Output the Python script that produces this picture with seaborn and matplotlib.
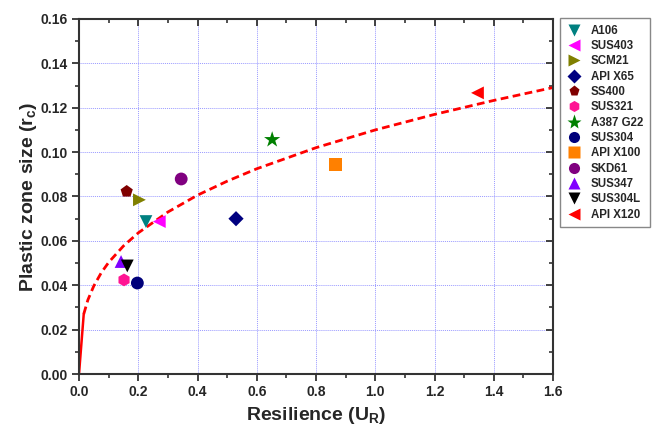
import matplotlib
matplotlib.use("Agg")
import matplotlib.pyplot as plt
from matplotlib.lines import Line2D
from matplotlib.ticker import MultipleLocator
import seaborn as sns
import pandas as pd

# ---- data ----
materials = ["A106", "SUS403", "SCM21", "API X65", "SS400", "SUS321", "A387 G22",
             "SUS304", "API X100", "SKD61", "SUS347", "SUS304L", "API X120"]
resilience = [0.226, 0.271, 0.204, 0.530, 0.161, 0.152, 0.652,
              0.197, 0.866, 0.345, 0.142, 0.163, 1.345]
plastic_zone = [0.0687, 0.0687, 0.0785, 0.0700, 0.0823, 0.0424, 0.1056,
                0.0410, 0.0946, 0.0879, 0.0507, 0.0487, 0.1267]
colors = ["#008080", "#ff00ff", "#808000", "#000080", "#800000", "#ff1493", "#008000",
          "#00007a", "#ff8000", "#800080", "#8000ff", "#000000", "#ff0000"]
markers = ["v", "<", ">", "D", "p", "h", "*", "o", "s", "o", "^", "v", "<"]

# fitted trend curve
curve_x = [0.0, 0.016, 0.03, 0.05, 0.075, 0.1, 0.15, 0.2, 0.3, 0.4, 0.5, 0.6,
           0.8, 1.0, 1.2, 1.4, 1.6]
curve_y = [0.0, 0.0270, 0.0334, 0.0397, 0.0456, 0.0503, 0.0577, 0.0636, 0.0730,
           0.0806, 0.0869, 0.0925, 0.1020, 0.1100, 0.1170, 0.1233, 0.1291]

x_ticks = [0.0, 0.2, 0.4, 0.6, 0.8, 1.0, 1.2, 1.4, 1.6]
y_ticks = [0.00, 0.02, 0.04, 0.06, 0.08, 0.10, 0.12, 0.14, 0.16]

# ---- style ----
sns.set_style("ticks")
plt.rcParams["font.family"] = ["Liberation Sans", "DejaVu Sans"]
plt.rcParams["font.weight"] = "bold"
plt.rcParams["axes.labelweight"] = "bold"
plt.rcParams["mathtext.default"] = "regular"

fig = plt.figure(figsize=(6.52, 4.30), dpi=100)
ax = fig.add_axes([79 / 652, 1 - 374 / 430, (553 - 79) / 652, (374 - 19) / 430])

df = pd.DataFrame({"x": resilience, "y": plastic_zone, "name": materials})
pal = dict(zip(materials, colors))
mk = dict(zip(materials, markers))
sizes = {m: (150 if m == "A387 G22" else 85) for m in materials}

# trend line: solid start + dashed remainder
sns.lineplot(x=curve_x[:2], y=curve_y[:2], ax=ax, color="#ff0000", lw=1.8,
             sort=False, estimator=None)
sns.lineplot(x=curve_x[1:], y=curve_y[1:], ax=ax, color="#ff0000", lw=2.0,
             linestyle=(0, (2.8, 1.6)), sort=False, estimator=None)

for m in materials:
    sub = df[df["name"] == m]
    sns.scatterplot(data=sub, x="x", y="y", color=pal[m], marker=mk[m],
                    s=sizes[m] if mk[m] != "D" else 60, edgecolor="none",
                    ax=ax, legend=False, zorder=5)

ax.set_xlim(0, 1.6)
ax.set_ylim(0, 0.16)
ax.set_xticks(x_ticks)
ax.set_yticks(y_ticks)
ax.set_xticklabels([f"{v:.1f}" for v in x_ticks])
ax.set_yticklabels([f"{v:.2f}" for v in y_ticks])
ax.xaxis.set_minor_locator(MultipleLocator(0.1))
ax.yaxis.set_minor_locator(MultipleLocator(0.01))

ax.grid(True, which="major", color="#9a9aff", linestyle=(0, (1, 1)), lw=0.7)
ax.set_axisbelow(True)

for sp in ax.spines.values():
    sp.set_visible(True)
    sp.set_color("#333333")
    sp.set_linewidth(1.5)

ax.tick_params(axis="both", which="major", direction="out", length=5, width=1.3,
               color="#333333", labelsize=10, pad=3)
ax.tick_params(axis="both", which="minor", direction="out", length=3, width=1.2,
               color="#333333")
ax.tick_params(axis="both", which="both", top=True, right=True)
# mirrored ticks on top/right point inward
for t in ax.xaxis.get_major_ticks() + ax.xaxis.get_minor_ticks():
    t.tick2line.set_marker(3)
for t in ax.yaxis.get_major_ticks() + ax.yaxis.get_minor_ticks():
    t.tick2line.set_marker(0)
for lab in ax.get_xticklabels() + ax.get_yticklabels():
    lab.set_fontweight("bold")

ax.set_xlabel(r"Resilience (U$_R$)", fontsize=14, fontweight="bold", labelpad=4)
ax.set_ylabel(r"Plastic zone size (r$_c$)", fontsize=14, fontweight="bold", labelpad=1)

handles = [Line2D([], [], linestyle="none", marker=mk[m], color=pal[m],
                  markeredgecolor="none",
                  markersize=(11 if m == "A387 G22" else 8 if mk[m] != "D" else 7))
           for m in materials]
leg = fig.legend(handles, materials, loc="upper left",
                 bbox_to_anchor=(560 / 652, 1 - 18 / 430), frameon=True,
                 fancybox=False, edgecolor="#888888", framealpha=1,
                 prop={"size": 8.3, "weight": "bold"}, labelspacing=0.29,
                 handlelength=1.3, handletextpad=0.8, borderpad=0.58,
                 borderaxespad=0)
leg.get_frame().set_linewidth(1.0)

fig.savefig("out.png", dpi=100)
